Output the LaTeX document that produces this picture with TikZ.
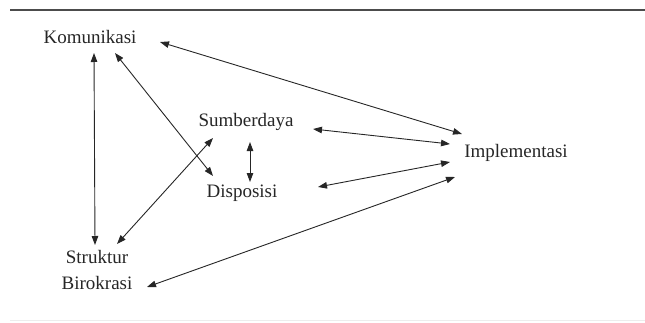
\documentclass[tikz,border=0pt]{standalone}
\usepackage{fontspec}
\setmainfont{Liberation Serif}
\usetikzlibrary{arrows.meta}

\begin{document}
\begin{tikzpicture}[x=1pt, y=-1pt,
        every node/.style={inner sep=0pt, text=black!85,
        font=\rmfamily\fontsize{19}{26}\selectfont},
        link/.style={{Triangle[length=9pt,width=6.5pt]}-{Triangle[length=9pt,width=6.5pt]},
        line width=0.9pt, black!85}]
        \useasboundingbox (0,0) rectangle (645,322);
        \draw[line width=2.5pt, black!70] (10,10) -- (645,10);
        \draw[line width=1pt, black!7] (10,320) -- (645,320);

        \node (kom) at (90,37) {Komunikasi};
        \node (sum) at (246,122) {Sumberdaya};
        \node (dis) at (242,193) {Disposisi};
        \node (imp) at (516,153) {Implementasi};
        \node[align=center] (str) at (97,270) {Struktur\\Birokrasi};

        \draw[link] ([shift={(4,16)}]kom.center) -- ([shift={(-2,-25)}]str.center);
        \draw[link] ([shift={(25,16)}]kom.center) -- ([shift={(-29,-17)}]dis.center);
        \draw[link] ([shift={(-33,16)}]sum.center) -- ([shift={(20,-26)}]str.center);
        \draw[link] ([shift={(4,20)}]sum.center) -- ([shift={(8,-11)}]dis.center);
        \draw[link] ([shift={(70,5)}]kom.center) -- ([shift={(-54,-19)}]imp.center);
        \draw[link] ([shift={(67,7)}]sum.center) -- ([shift={(-66,-9)}]imp.center);
        \draw[link] ([shift={(76,-6)}]dis.center) -- ([shift={(-66,9)}]imp.center);
        \draw[link] ([shift={(50,17)}]str.center) -- ([shift={(-61,24)}]imp.center);
    \end{tikzpicture}
\end{document}
